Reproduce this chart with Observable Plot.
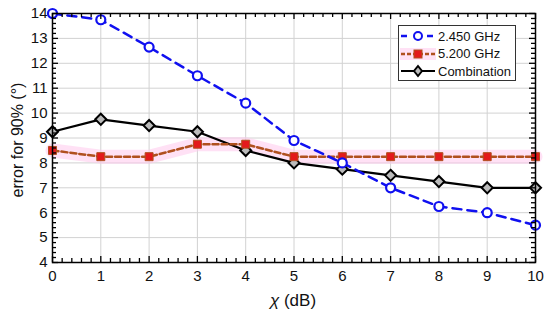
<!DOCTYPE html>
<html>
<head>
<meta charset="utf-8">
<script src="https://cdn.jsdelivr.net/npm/d3@7"></script>
<script src="https://cdn.jsdelivr.net/npm/@observablehq/plot@0.6"></script>
<style>
  body { margin: 0; background: #fff; font-family: "Liberation Sans", Arial, sans-serif; }
  #legend { position: absolute; left: 398px; top: 25px; width: 118px; height: 56px; border: 1.5px solid #333; background: #fff; box-sizing: border-box; font-size: 13px; color: #111; }
  #legend .row { position: absolute; left: 1px; height: 18px; display: flex; align-items: center; }
  #legend svg { display: block; }
  #legend span { margin-left: 2px; }
</style>
</head>
<body>
<script>
const chi = [0, 1, 2, 3, 4, 5, 6, 7, 8, 9, 10];
const ghz2450 = [14, 13.75, 12.65, 11.5, 10.4, 8.9, 8.0, 7.0, 6.25, 6.0, 5.5];
const ghz5200 = [8.5, 8.25, 8.25, 8.75, 8.75, 8.25, 8.25, 8.25, 8.25, 8.25, 8.25];
const combination = [9.25, 9.75, 9.5, 9.25, 8.5, 8.0, 7.75, 7.5, 7.25, 7.0, 7.0];
const xTicks = [0, 1, 2, 3, 4, 5, 6, 7, 8, 9, 10];
const yTicks = [4, 5, 6, 7, 8, 9, 10, 11, 12, 13, 14];
const seriesNames = ["2.450 GHz", "5.200 GHz", "Combination"];

const minorX = d3.range(0, 50.5, 1).map(d => d / 5).filter(d => !xTicks.includes(d));
const minorY = d3.range(20, 70.5, 1).map(d => d / 5).filter(d => !yTicks.includes(d));

const blue = chi.map((x, i) => ({x, y: ghz2450[i]}));
const red = chi.map((x, i) => ({x, y: ghz5200[i]}));
const black = chi.map((x, i) => ({x, y: combination[i]}));

const BLUE = "#1010f0", BROWN = "#b0501e", RED = "#e3191c";

const W = 550, H = 325, ML = 52, MR = 15, MT = 13, MB = 63;
const xMin = 0, xMax = 10, yMin = 4, yMax = 14;
const pxX = (xMax - xMin) / (W - ML - MR);
const pxY = (yMax - yMin) / (H - MT - MB);
const tickStyle = {stroke: "#000", strokeWidth: 1.3};

const plot = Plot.plot({
  width: W, height: H,
  marginLeft: ML, marginRight: MR, marginTop: MT, marginBottom: MB,
  x: {domain: [xMin, xMax]},
  y: {domain: [yMin, yMax]},
  marks: [
    Plot.gridX(xTicks, {stroke: "#d2d2d2", strokeOpacity: 1}),
    Plot.gridY(yTicks, {stroke: "#d2d2d2", strokeOpacity: 1}),
    Plot.line(red, {x: "x", y: "y", stroke: "#ffc8ec", strokeWidth: 14, strokeOpacity: 0.55}),
    Plot.line(black, {x: "x", y: "y", stroke: "#000", strokeWidth: 2.2}),
    Plot.line(red, {x: "x", y: "y", stroke: BROWN, strokeWidth: 2.5, strokeDasharray: "6,3"}),
    Plot.line(blue, {x: "x", y: "y", stroke: BLUE, strokeWidth: 2.5, strokeDasharray: "9,6"}),
    Plot.dot(black, {x: "x", y: "y", symbol: "diamond2", r: 5, stroke: "#000", strokeWidth: 2, fill: "#bbb"}),
    Plot.dot(red, {x: "x", y: "y", symbol: "square", r: 4.5, fill: RED, stroke: BROWN, strokeWidth: 1}),
    Plot.dot(blue, {x: "x", y: "y", r: 4.5, stroke: BLUE, strokeWidth: 2.2, fill: "white"}),
    Plot.ruleX(xTicks, {x: d => d, y1: yMin, y2: yMin + 6 * pxY, ...tickStyle}),
    Plot.ruleX(xTicks, {x: d => d, y1: yMax, y2: yMax - 6 * pxY, ...tickStyle}),
    Plot.ruleX(minorX, {x: d => d, y1: yMin, y2: yMin + 4 * pxY, ...tickStyle}),
    Plot.ruleX(minorX, {x: d => d, y1: yMax, y2: yMax - 4 * pxY, ...tickStyle}),
    Plot.ruleY(yTicks, {y: d => d, x1: xMin, x2: xMin + 6 * pxX, ...tickStyle}),
    Plot.ruleY(yTicks, {y: d => d, x1: xMax, x2: xMax - 6 * pxX, ...tickStyle}),
    Plot.ruleY(minorY, {y: d => d, x1: xMin, x2: xMin + 4 * pxX, ...tickStyle}),
    Plot.ruleY(minorY, {y: d => d, x1: xMax, x2: xMax - 4 * pxX, ...tickStyle}),
    Plot.frame({stroke: "#000", strokeWidth: 1.5}),
    Plot.axisX(xTicks, {anchor: "bottom", tickSize: 0, tickPadding: 8, label: null, fontSize: 15, fill: "#111", fontFamily: "Liberation Sans, Arial, sans-serif"}),
    Plot.axisY(yTicks, {anchor: "left", tickSize: 0, tickPadding: 5, label: null, fontSize: 15, fill: "#111", fontFamily: "Liberation Sans, Arial, sans-serif"})
  ]
});

const svg = d3.select(plot);
svg.append("text")
  .attr("x", 293).attr("y", 306)
  .attr("text-anchor", "middle")
  .attr("font-family", "Liberation Sans, Arial, sans-serif")
  .attr("font-size", 17).attr("fill", "#111")
  .call(t => { t.append("tspan").attr("font-style", "italic").text("χ"); t.append("tspan").text(" (dB)"); });
svg.append("text")
  .attr("transform", "translate(23,140) rotate(-90)")
  .attr("text-anchor", "middle")
  .attr("font-family", "Liberation Sans, Arial, sans-serif")
  .attr("font-size", 16).attr("fill", "#111")
  .text("error for 90% (°)");

document.body.append(plot);

const legend = d3.select("body").append("div").attr("id", "legend");
const rows = [
  {name: seriesNames[0], draw: g => {
    g.append("line").attr("x1", 1).attr("x2", 35).attr("y1", 9).attr("y2", 9).attr("stroke", BLUE).attr("stroke-width", 2.5).attr("stroke-dasharray", "6,7");
    g.append("circle").attr("cx", 18).attr("cy", 9).attr("r", 4).attr("stroke", BLUE).attr("stroke-width", 2).attr("fill", "white");
  }},
  {name: seriesNames[1], draw: g => {
    g.append("rect").attr("x", 0).attr("y", 3).attr("width", 36).attr("height", 12).attr("fill", "#ffc8ec").attr("opacity", 0.55);
    g.append("line").attr("x1", 1).attr("x2", 35).attr("y1", 9).attr("y2", 9).attr("stroke", BROWN).attr("stroke-width", 2.5).attr("stroke-dasharray", "4,2");
    g.append("rect").attr("x", 14).attr("y", 5).attr("width", 8).attr("height", 8).attr("fill", RED).attr("stroke", BROWN);
  }},
  {name: seriesNames[2], draw: g => {
    g.append("line").attr("x1", 1).attr("x2", 35).attr("y1", 9).attr("y2", 9).attr("stroke", "#000").attr("stroke-width", 2.2);
    g.append("path").attr("d", "M18,4L22,9L18,14L14,9Z").attr("stroke", "#000").attr("stroke-width", 2).attr("fill", "#bbb");
  }}
];
rows.forEach((r, i) => {
  const row = legend.append("div").attr("class", "row").style("top", (1 + i * 17.5) + "px");
  const s = row.append("svg").attr("width", 36).attr("height", 18);
  r.draw(s);
  row.append("span").text(r.name);
});
</script>
</body>
</html>
